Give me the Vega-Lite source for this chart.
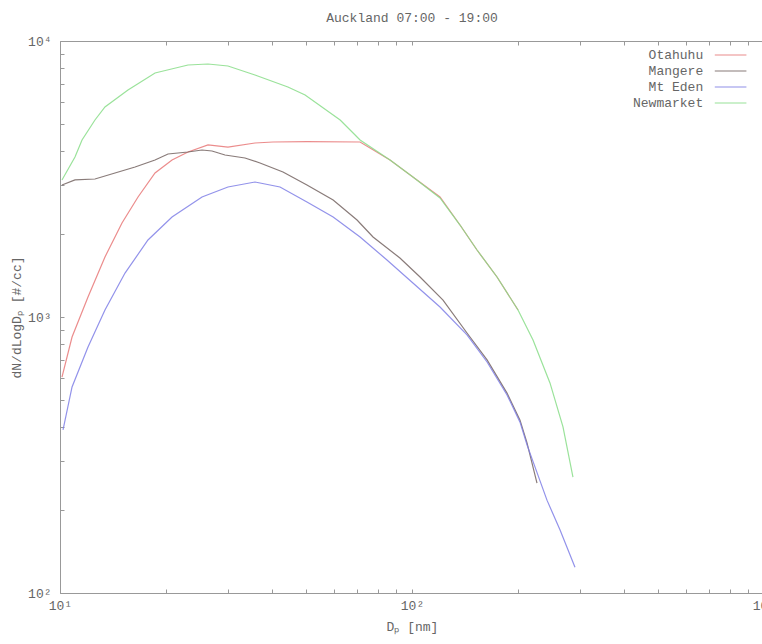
{
  "$schema": "https://vega.github.io/schema/vega-lite/v6.json",
  "width": 704,
  "height": 552,
  "autosize": {"type": "none"},
  "padding": {"left": 60, "top": 41, "right": 0, "bottom": 51},
  "background": "white",
  "title": {
    "text": "Auckland 07:00 - 19:00",
    "font": "Liberation Mono",
    "fontSize": 13,
    "fontWeight": "normal",
    "color": "#666666",
    "offset": 10,
    "anchor": "middle"
  },
  "config": {
    "view": {"stroke": "#999999", "strokeWidth": 1},
    "axis": {
      "labelFont": "Liberation Mono",
      "titleFont": "Liberation Mono",
      "labelFontSize": 13,
      "titleFontSize": 13,
      "titleFontWeight": "normal",
      "labelColor": "#666666",
      "titleColor": "#666666",
      "domain": false,
      "grid": false,
      "labelFlush": false,
      "labelOverlap": false,
      "tickColor": "#999999",
      "tickSize": -4
    }
  },
  "data": {
    "values": [
      {"site": "Otahuhu", "d": 10.13, "n": 606},
      {"site": "Otahuhu", "d": 10.82, "n": 846},
      {"site": "Otahuhu", "d": 12.01, "n": 1182},
      {"site": "Otahuhu", "d": 13.42, "n": 1650},
      {"site": "Otahuhu", "d": 15.0, "n": 2191},
      {"site": "Otahuhu", "d": 16.66, "n": 2721},
      {"site": "Otahuhu", "d": 18.62, "n": 3324},
      {"site": "Otahuhu", "d": 20.81, "n": 3706},
      {"site": "Otahuhu", "d": 23.1, "n": 3961},
      {"site": "Otahuhu", "d": 26.33, "n": 4200},
      {"site": "Otahuhu", "d": 30.0, "n": 4129},
      {"site": "Otahuhu", "d": 35.8, "n": 4270},
      {"site": "Otahuhu", "d": 40.28, "n": 4306},
      {"site": "Otahuhu", "d": 50.3, "n": 4320},
      {"site": "Otahuhu", "d": 71.2, "n": 4306},
      {"site": "Otahuhu", "d": 86.6, "n": 3706},
      {"site": "Otahuhu", "d": 100.6, "n": 3216},
      {"site": "Otahuhu", "d": 120.1, "n": 2721},
      {"site": "Otahuhu", "d": 136.9, "n": 2154},
      {"site": "Otahuhu", "d": 153.0, "n": 1749},
      {"site": "Otahuhu", "d": 174.4, "n": 1396},
      {"site": "Otahuhu", "d": 200.1, "n": 1060},

      {"site": "Mangere", "d": 10.13, "n": 3008},
      {"site": "Mangere", "d": 11.03, "n": 3137},
      {"site": "Mangere", "d": 12.57, "n": 3162},
      {"site": "Mangere", "d": 14.33, "n": 3324},
      {"site": "Mangere", "d": 16.34, "n": 3495},
      {"site": "Mangere", "d": 18.62, "n": 3706},
      {"site": "Mangere", "d": 20.27, "n": 3896},
      {"site": "Mangere", "d": 23.1, "n": 3961},
      {"site": "Mangere", "d": 25.32, "n": 4028},
      {"site": "Mangere", "d": 27.03, "n": 3994},
      {"site": "Mangere", "d": 29.43, "n": 3864},
      {"site": "Mangere", "d": 33.54, "n": 3769},
      {"site": "Mangere", "d": 37.0, "n": 3614},
      {"site": "Mangere", "d": 43.0, "n": 3353},
      {"site": "Mangere", "d": 50.3, "n": 3008},
      {"site": "Mangere", "d": 59.7, "n": 2654},
      {"site": "Mangere", "d": 69.8, "n": 2246},
      {"site": "Mangere", "d": 77.5, "n": 1949},
      {"site": "Mangere", "d": 92.4, "n": 1636},
      {"site": "Mangere", "d": 105.4, "n": 1396},
      {"site": "Mangere", "d": 122.5, "n": 1152},
      {"site": "Mangere", "d": 143.3, "n": 875},
      {"site": "Mangere", "d": 163.4, "n": 699},
      {"site": "Mangere", "d": 186.2, "n": 530},
      {"site": "Mangere", "d": 202.7, "n": 423},
      {"site": "Mangere", "d": 212.2, "n": 350},
      {"site": "Mangere", "d": 226.5, "n": 250},

      {"site": "Mt Eden", "d": 10.2, "n": 390},
      {"site": "Mt Eden", "d": 10.82, "n": 558},
      {"site": "Mt Eden", "d": 12.01, "n": 779},
      {"site": "Mt Eden", "d": 13.42, "n": 1060},
      {"site": "Mt Eden", "d": 15.3, "n": 1443},
      {"site": "Mt Eden", "d": 17.78, "n": 1901},
      {"site": "Mt Eden", "d": 20.81, "n": 2303},
      {"site": "Mt Eden", "d": 25.32, "n": 2721},
      {"site": "Mt Eden", "d": 30.0, "n": 2958},
      {"site": "Mt Eden", "d": 35.8, "n": 3084},
      {"site": "Mt Eden", "d": 37.0, "n": 3058},
      {"site": "Mt Eden", "d": 42.17, "n": 2958},
      {"site": "Mt Eden", "d": 50.3, "n": 2610},
      {"site": "Mt Eden", "d": 59.7, "n": 2303},
      {"site": "Mt Eden", "d": 71.2, "n": 1949},
      {"site": "Mt Eden", "d": 84.9, "n": 1609},
      {"site": "Mt Eden", "d": 100.6, "n": 1328},
      {"site": "Mt Eden", "d": 120.1, "n": 1087},
      {"site": "Mt Eden", "d": 143.3, "n": 861},
      {"site": "Mt Eden", "d": 163.4, "n": 687},
      {"site": "Mt Eden", "d": 186.2, "n": 522},
      {"site": "Mt Eden", "d": 202.7, "n": 416},
      {"site": "Mt Eden", "d": 212.2, "n": 344},
      {"site": "Mt Eden", "d": 241.8, "n": 217},
      {"site": "Mt Eden", "d": 263.4, "n": 169},
      {"site": "Mt Eden", "d": 290.4, "n": 124},

      {"site": "Newmarket", "d": 10.13, "n": 3137},
      {"site": "Newmarket", "d": 11.03, "n": 3799},
      {"site": "Newmarket", "d": 11.55, "n": 4378},
      {"site": "Newmarket", "d": 12.57, "n": 5174},
      {"site": "Newmarket", "d": 13.42, "n": 5767},
      {"site": "Newmarket", "d": 15.6, "n": 6645},
      {"site": "Newmarket", "d": 18.62, "n": 7657},
      {"site": "Newmarket", "d": 23.1, "n": 8185},
      {"site": "Newmarket", "d": 26.33, "n": 8253},
      {"site": "Newmarket", "d": 30.0, "n": 8116},
      {"site": "Newmarket", "d": 35.8, "n": 7530},
      {"site": "Newmarket", "d": 44.4, "n": 6812},
      {"site": "Newmarket", "d": 49.7, "n": 6373},
      {"site": "Newmarket", "d": 62.5, "n": 5174},
      {"site": "Newmarket", "d": 71.2, "n": 4378},
      {"site": "Newmarket", "d": 86.6, "n": 3706},
      {"site": "Newmarket", "d": 100.6, "n": 3216},
      {"site": "Newmarket", "d": 120.1, "n": 2699},
      {"site": "Newmarket", "d": 136.9, "n": 2154},
      {"site": "Newmarket", "d": 153.0, "n": 1749},
      {"site": "Newmarket", "d": 174.4, "n": 1396},
      {"site": "Newmarket", "d": 200.1, "n": 1060},
      {"site": "Newmarket", "d": 220.7, "n": 825},
      {"site": "Newmarket", "d": 246.6, "n": 577},
      {"site": "Newmarket", "d": 268.5, "n": 400},
      {"site": "Newmarket", "d": 286.6, "n": 263}
    ]
  },
  "layer": [
    {
      "mark": {"type": "line", "strokeWidth": 1.2, "opacity": 0.85},
      "encoding": {
        "x": {
          "field": "d",
          "type": "quantitative",
          "scale": {"type": "log", "domain": [10, 1000], "nice": false},
          "axis": {
            "orient": "bottom",
            "title": "Dₚ [nm]",
            "titlePadding": 8,
            "labelPadding": 10,
            "values": [10, 20, 30, 40, 50, 60, 70, 80, 90, 100, 200, 300, 400, 500, 600, 700, 800, 900, 1000],
            "labelExpr": "datum.value == 10 ? '10¹' : datum.value == 100 ? '10²' : datum.value == 1000 ? '10³' : ''"
          }
        },
        "y": {
          "field": "n",
          "type": "quantitative",
          "scale": {"type": "log", "domain": [100, 10000], "nice": false},
          "axis": {
            "orient": "left",
            "title": "dN/dLogDₚ [#/cc]",
            "titlePadding": 4,
            "labelPadding": 13,
            "values": [100, 200, 300, 400, 500, 600, 700, 800, 900, 1000, 2000, 3000, 4000, 5000, 6000, 7000, 8000, 9000, 10000],
            "labelExpr": "datum.value == 100 ? '10²' : datum.value == 1000 ? '10³' : datum.value == 10000 ? '10⁴' : ''"
          }
        },
        "color": {
          "field": "site",
          "type": "nominal",
          "sort": ["Otahuhu", "Mangere", "Mt Eden", "Newmarket"],
          "scale": {
            "domain": ["Otahuhu", "Mangere", "Mt Eden", "Newmarket"],
            "range": ["#e87878", "#746462", "#7f7fe6", "#88dd88"]
          },
          "legend": {
            "title": null,
            "orient": "none",
            "legendX": 661.6,
            "legendY": 5,
            "symbolType": "M-2,0H2",
            "symbolSize": 250,
            "symbolStrokeWidth": 1.2,
            "labelFont": "Liberation Mono",
            "labelFontSize": 13,
            "labelColor": "#666666",
            "labelAlign": "right",
            "labelOffset": -36.4,
            "rowPadding": 0
          }
        },
        "detail": {"field": "site"}
      }
    },
    {
      "mark": {"type": "line", "opacity": 0},
      "encoding": {
        "x": {
          "field": "d",
          "type": "quantitative",
          "axis": {
            "orient": "top",
            "title": null,
            "labels": false,
            "values": [10, 20, 30, 40, 50, 60, 70, 80, 90, 100, 200, 300, 400, 500, 600, 700, 800, 900, 1000]
          }
        },
        "y": {"field": "n", "type": "quantitative"},
        "detail": {"field": "site"}
      }
    }
  ],
  "resolve": {"axis": {"x": "independent"}}
}
